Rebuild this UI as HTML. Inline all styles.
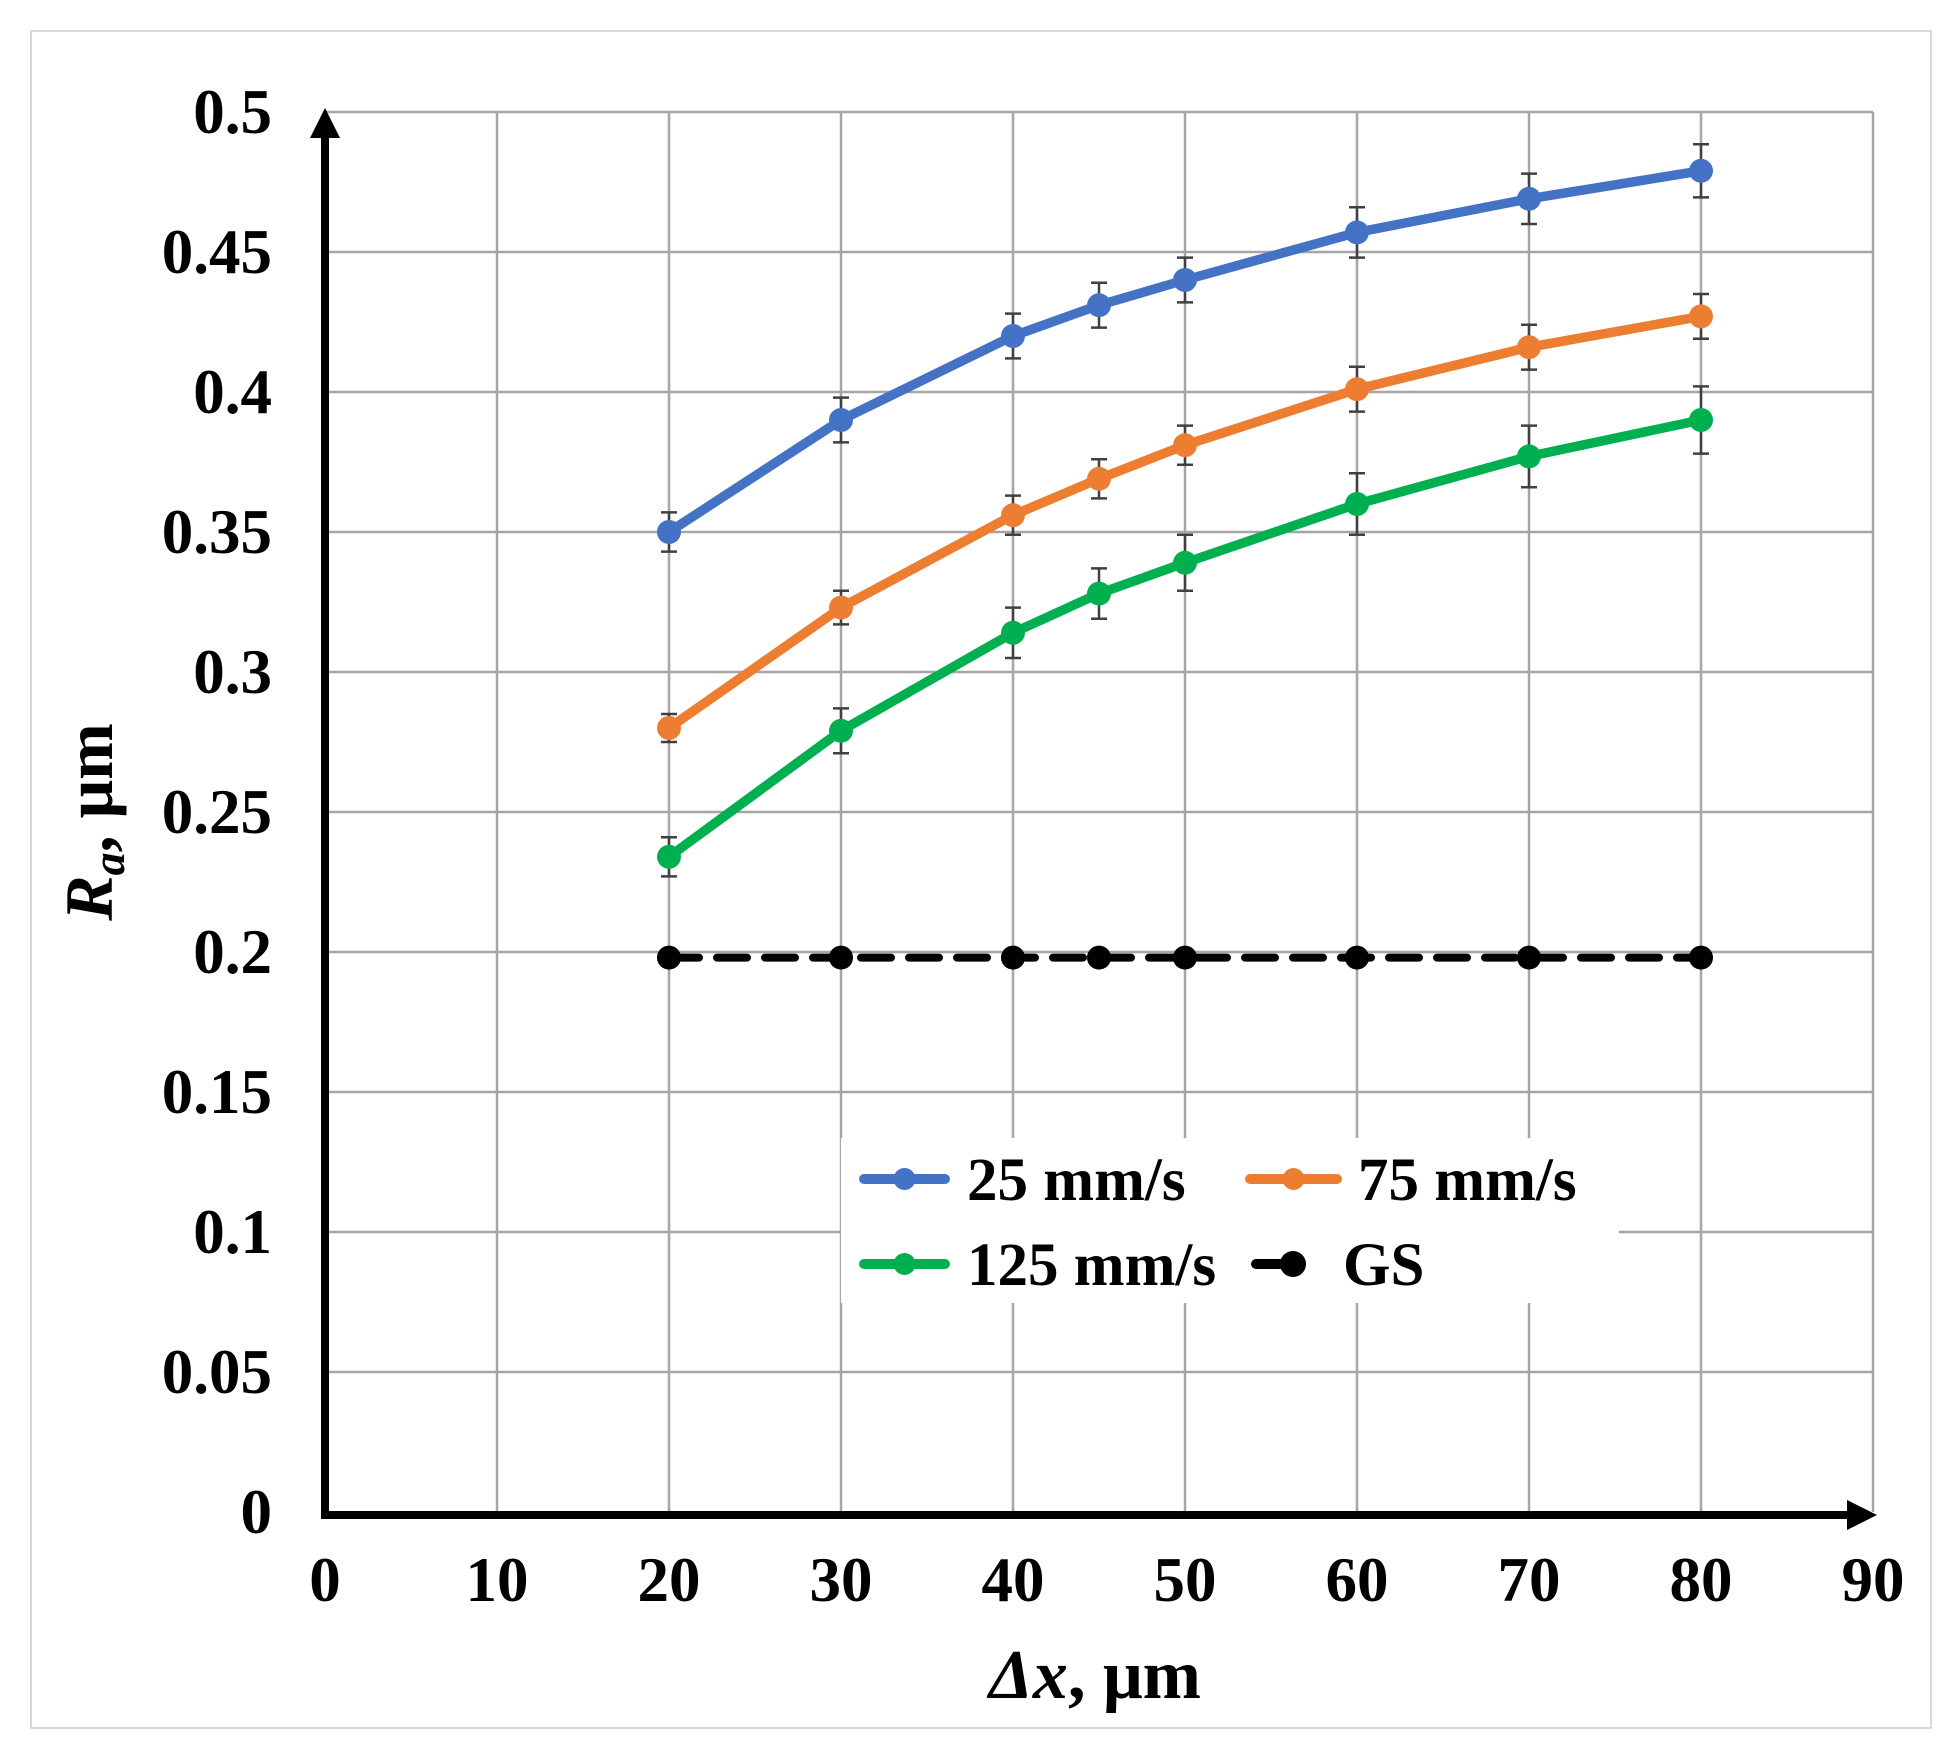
<!DOCTYPE html>
<html><head><meta charset="utf-8"><style>
html,body{margin:0;padding:0;background:#fff;}
svg{display:block;font-family:"Liberation Serif",serif;font-weight:bold;}
</style></head><body>
<svg id="chart" width="1950" height="1753" viewBox="0 0 1950 1753" xmlns="http://www.w3.org/2000/svg">
<rect x="31" y="31" width="1900" height="1697" fill="#fff" stroke="#d9d9d9" stroke-width="2"/>
<g id="grid"></g>
<g id="series"></g>
<g id="axes"></g>
<g id="legend"></g>
</svg>
<script>
const xValues = [20, 30, 40, 45, 50, 60, 70, 80];
const series25 = [0.350, 0.390, 0.420, 0.431, 0.440, 0.457, 0.469, 0.479];
const err25 = [0.007, 0.008, 0.008, 0.008, 0.008, 0.009, 0.009, 0.0095];
const series75 = [0.280, 0.323, 0.356, 0.369, 0.381, 0.401, 0.416, 0.427];
const err75 = [0.005, 0.006, 0.007, 0.007, 0.007, 0.008, 0.008, 0.008];
const series125 = [0.234, 0.279, 0.314, 0.328, 0.339, 0.360, 0.377, 0.390];
const err125 = [0.007, 0.008, 0.009, 0.009, 0.010, 0.011, 0.011, 0.012];
const seriesGS = [0.198, 0.198, 0.198, 0.198, 0.198, 0.198, 0.198, 0.198];
const xTicks = [0, 10, 20, 30, 40, 50, 60, 70, 80, 90];
const yTicks = [0, 0.05, 0.1, 0.15, 0.2, 0.25, 0.3, 0.35, 0.4, 0.45, 0.5];
const yTickLabels = ["0", "0.05", "0.1", "0.15", "0.2", "0.25", "0.3", "0.35", "0.4", "0.45", "0.5"];

const NS = "http://www.w3.org/2000/svg";
const X0 = 325, X1 = 1873, Y0 = 1512, Y1 = 112;
function xs(v){ return X0 + (v - 0) / 90 * (X1 - X0); }
function ys(v){ return Y0 - (v - 0) / 0.5 * (Y0 - Y1); }
function mk(tag, attrs, parent){ const e = document.createElementNS(NS, tag); for (const k in attrs) e.setAttribute(k, attrs[k]); parent.appendChild(e); return e; }

const grid = document.getElementById('grid');
xTicks.forEach(t => {
  if (t === 0) return;
  const l = mk('line', {x1: xs(t), x2: xs(t), y1: Y1, y2: Y0, stroke: '#a6a6a6', 'stroke-width': 2.5}, grid);
  
  
});
yTicks.forEach(t => {
  if (t === 0) return;
  const l = mk('line', {x1: X0, x2: X1, y1: ys(t), y2: ys(t), stroke: '#a6a6a6', 'stroke-width': 2.5}, grid);
  
  
});

const ser = document.getElementById('series');
function drawSeries(vals, errs, color, name){
  const g = mk('g', {}, ser);
  
  
  if (errs) vals.forEach((v, i) => {
    const x = xs(xValues[i]), yt = ys(v + errs[i]), yb = ys(v - errs[i]);
    const e = mk('path', {d: `M${x},${yt}V${yb}M${x-8},${yt}H${x+8}M${x-8},${yb}H${x+8}`, stroke: '#404040', 'stroke-width': 2.5, fill: 'none'}, g);
    
    
  });
  const pts = vals.map((v, i) => xs(xValues[i]) + ',' + ys(v)).join(' ');
  const pl = mk('polyline', {points: pts, fill: 'none', stroke: color, 'stroke-width': errs ? 9.5 : 8, 'stroke-linejoin': 'round', 'stroke-linecap': 'round'}, g);
  if (!errs) pl.setAttribute('stroke-dasharray', '30 18');
  
  
  vals.forEach((v, i) => {
    const c = mk('circle', {cx: xs(xValues[i]), cy: ys(v), r: 12, fill: color}, g);
    
    
  });
}
drawSeries(seriesGS, null, '#000', 'series-gs');
drawSeries(series125, err125, '#00B050', 'series-125');
drawSeries(series75, err75, '#ED7D31', 'series-75');
drawSeries(series25, err25, '#4472C4', 'series-25');

const ax = document.getElementById('axes');
let a = mk('path', {d: `M${X0},${Y0+4}V${Y1+20}`, stroke: '#000', 'stroke-width': 8}, ax);


a = mk('path', {d: `M${X0-15},${Y1+26}L${X0},${Y1-4}L${X0+15},${Y1+26}Z`, fill: '#000'}, ax);


a = mk('path', {d: `M${X0-4},${Y0+3}H${X1-20}`, stroke: '#000', 'stroke-width': 8}, ax);


a = mk('path', {d: `M${X1-26},${Y0+3-15}L${X1+4},${Y0+3}L${X1-26},${Y0+3+15}Z`, fill: '#000'}, ax);


xTicks.forEach(t => {
  const tx = mk('text', {x: xs(t), y: 1601, 'font-size': 63, 'text-anchor': 'middle'}, ax);
  tx.textContent = String(t);
  
  
});
yTicks.forEach((t, i) => {
  const tx = mk('text', {x: 272, y: ys(t) + 21, 'font-size': 63, 'text-anchor': 'end'}, ax);
  tx.textContent = yTickLabels[i];
  
  
});
let tt = mk('text', {x: 1095, y: 1698, 'font-size': 70, 'text-anchor': 'middle'}, ax);
tt.innerHTML = '<tspan font-style="italic">Δx</tspan>, μm';


tt = mk('text', {x: 0, y: 0, 'font-size': 68, 'text-anchor': 'middle', transform: 'translate(112,822) rotate(-90)'}, ax);
tt.innerHTML = '<tspan font-style="italic">R</tspan><tspan font-style="italic" font-size="46" dy="12">a</tspan><tspan dy="-12">, μm</tspan>';



const lg = document.getElementById('legend');
let lb = mk('rect', {x: 841, y: 1138, width: 778, height: 165, fill: '#fff'}, lg);


const legendLabels = ['25 mm/s', '75 mm/s', '125 mm/s', 'GS'];
const legendColors = ['#4472C4', '#ED7D31', '#00B050', '#000'];
const legendPos = [[864, 945, 1179, 967], [1250, 1337, 1179, 1358], [864, 945, 1264, 967], [1256, 1300, 1264, 1343]];
legendLabels.forEach((lab, i) => {
  const p = legendPos[i];
  const g = mk('g', {}, lg);
  
  
  mk('line', {x1: p[0], x2: p[1], y1: p[2], y2: p[2], stroke: legendColors[i], 'stroke-width': 10, 'stroke-linecap': 'round'}, g);
  mk('circle', {cx: i === 3 ? p[1] - 7 : (p[0] + p[1]) / 2, cy: p[2], r: i === 3 ? 13 : 11, fill: legendColors[i]}, g);
  const t = mk('text', {x: p[3], y: p[2] + 21, 'font-size': 61}, g);
  t.textContent = lab;
});
</script>
</body></html>
